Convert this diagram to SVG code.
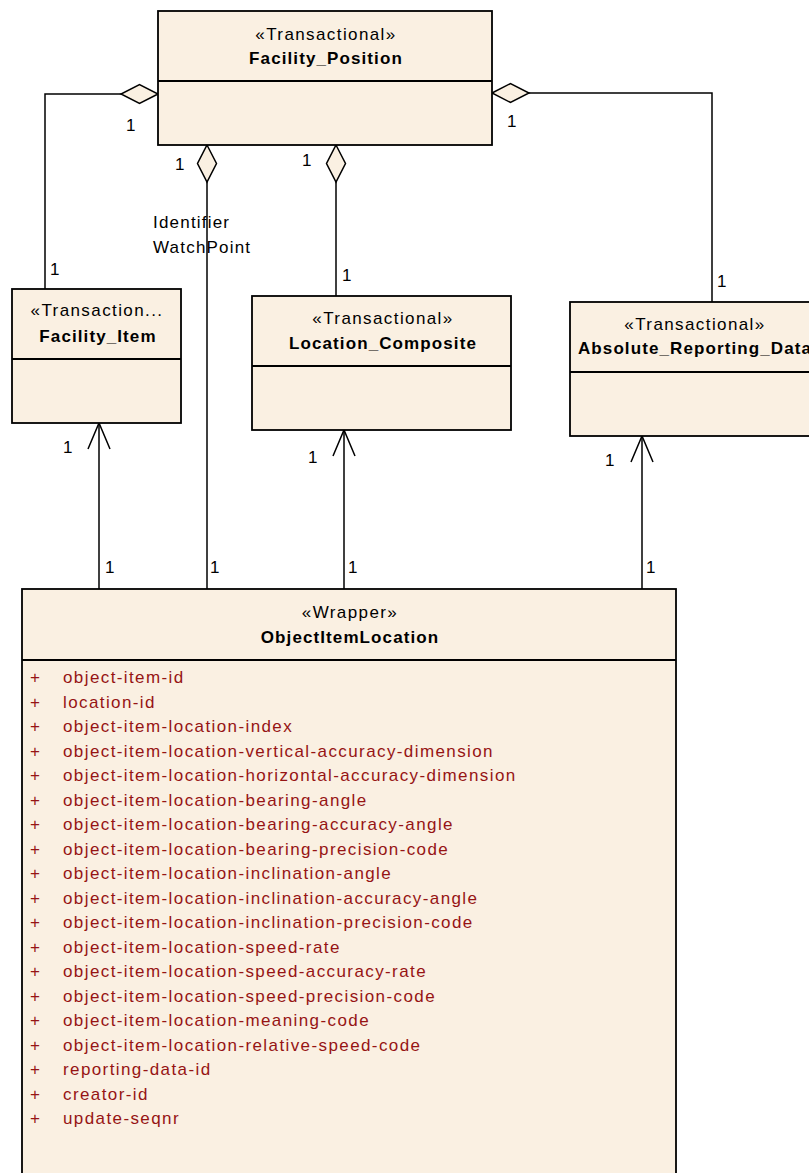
<svg xmlns="http://www.w3.org/2000/svg" width="809" height="1173" viewBox="0 0 809 1173">
<defs>
<style>
.box{fill:#FAF0E2;stroke:#000;stroke-width:1.8}
.div{stroke:#000;stroke-width:1.8;fill:none}
.ln{fill:none;stroke:#000;stroke-width:1.5}
.st{font-family:"Liberation Sans",Arial,sans-serif;font-size:17px;letter-spacing:1.4px;fill:#000;text-anchor:middle}
.nm{font-family:"Liberation Sans",Arial,sans-serif;font-size:17px;font-weight:bold;letter-spacing:1.1px;fill:#000;text-anchor:middle}
.mul{font-family:"Liberation Sans",Arial,sans-serif;font-size:17px;letter-spacing:1.2px;fill:#000}
.at{font-family:"Liberation Sans",Arial,sans-serif;font-size:17px;letter-spacing:1.4px;fill:#961414}
</style>
<marker id="dia" markerUnits="userSpaceOnUse" viewBox="0 -11 40 22" refX="0" refY="0" markerWidth="40" markerHeight="22" orient="auto" overflow="visible">
<path d="M0,0 L18.5,-9.5 L37,0 L18.5,9.5 Z" fill="#FAF0E2" stroke="#000" stroke-width="1.5"/>
</marker>
<marker id="arr" markerUnits="userSpaceOnUse" viewBox="-28 -13 30 26" refX="0" refY="0" markerWidth="30" markerHeight="26" orient="auto" overflow="visible">
<path d="M-26,-11 L0,0 L-26,11" fill="none" stroke="#000" stroke-width="1.5"/>
</marker>
</defs>
<rect width="809" height="1173" fill="#ffffff"/>

<g id="connectors">
<path class="ln" d="M158,94 H45 V289" marker-start="url(#dia)"/>
<path class="ln" d="M207,145 V589" marker-start="url(#dia)"/>
<path class="ln" d="M336,145 V296" marker-start="url(#dia)"/>
<path class="ln" d="M492,93 H712 V302" marker-start="url(#dia)"/>
<path class="ln" d="M99,589 V423" marker-end="url(#arr)"/>
<path class="ln" d="M344,589 V430" marker-end="url(#arr)"/>
<path class="ln" d="M642,589 V436" marker-end="url(#arr)"/>
<text class="mul" x="126" y="131">1</text>
<text class="mul" x="50" y="275">1</text>
<text class="mul" x="175" y="170">1</text>
<text class="mul" x="153" y="228">Identifier</text>
<text class="mul" x="153" y="253">WatchPoint</text>
<text class="mul" x="302" y="166">1</text>
<text class="mul" x="342" y="281">1</text>
<text class="mul" x="507" y="127">1</text>
<text class="mul" x="717" y="287">1</text>
<text class="mul" x="63" y="453">1</text>
<text class="mul" x="105" y="573">1</text>
<text class="mul" x="210" y="573">1</text>
<text class="mul" x="308" y="463">1</text>
<text class="mul" x="348" y="573">1</text>
<text class="mul" x="605" y="466">1</text>
<text class="mul" x="646" y="573">1</text>
</g>

<g id="Facility_Position">
<rect class="box" x="158" y="11" width="334" height="134"/>
<line class="div" x1="158" y1="81" x2="492" y2="81"/>
<text class="st" x="326" y="40">«Transactional»</text>
<text class="nm" x="326" y="64">Facility_Position</text>
</g>

<g id="Facility_Item">
<rect class="box" x="12" y="289" width="169" height="134"/>
<line class="div" x1="12" y1="359" x2="181" y2="359"/>
<text class="st" x="97" y="316">«Transaction...</text>
<text class="nm" x="98" y="342">Facility_Item</text>
</g>

<g id="Location_Composite">
<rect class="box" x="252" y="296" width="259" height="134"/>
<line class="div" x1="252" y1="366" x2="511" y2="366"/>
<text class="st" x="383" y="324">«Transactional»</text>
<text class="nm" x="383" y="349">Location_Composite</text>
</g>

<g id="Absolute_Reporting_Data">
<rect class="box" x="570" y="302" width="248" height="134"/>
<line class="div" x1="570" y1="372" x2="818" y2="372"/>
<text class="st" x="695" y="330">«Transactional»</text>
<text class="nm" x="695" y="354">Absolute_Reporting_Data</text>
</g>

<g id="ObjectItemLocation">
<rect class="box" x="22" y="589" width="654" height="640"/>
<line class="div" x1="22" y1="660" x2="676" y2="660"/>
<text class="st" x="350" y="618">«Wrapper»</text>
<text class="nm" x="350" y="643">ObjectItemLocation</text>
<g class="at">
<text x="30" y="683">+</text><text x="63" y="683">object-item-id</text>
<text x="30" y="707.5">+</text><text x="63" y="707.5">location-id</text>
<text x="30" y="732">+</text><text x="63" y="732">object-item-location-index</text>
<text x="30" y="756.5">+</text><text x="63" y="756.5">object-item-location-vertical-accuracy-dimension</text>
<text x="30" y="781">+</text><text x="63" y="781">object-item-location-horizontal-accuracy-dimension</text>
<text x="30" y="805.5">+</text><text x="63" y="805.5">object-item-location-bearing-angle</text>
<text x="30" y="830">+</text><text x="63" y="830">object-item-location-bearing-accuracy-angle</text>
<text x="30" y="854.5">+</text><text x="63" y="854.5">object-item-location-bearing-precision-code</text>
<text x="30" y="879">+</text><text x="63" y="879">object-item-location-inclination-angle</text>
<text x="30" y="903.5">+</text><text x="63" y="903.5">object-item-location-inclination-accuracy-angle</text>
<text x="30" y="928">+</text><text x="63" y="928">object-item-location-inclination-precision-code</text>
<text x="30" y="952.5">+</text><text x="63" y="952.5">object-item-location-speed-rate</text>
<text x="30" y="977">+</text><text x="63" y="977">object-item-location-speed-accuracy-rate</text>
<text x="30" y="1001.5">+</text><text x="63" y="1001.5">object-item-location-speed-precision-code</text>
<text x="30" y="1026">+</text><text x="63" y="1026">object-item-location-meaning-code</text>
<text x="30" y="1050.5">+</text><text x="63" y="1050.5">object-item-location-relative-speed-code</text>
<text x="30" y="1075">+</text><text x="63" y="1075">reporting-data-id</text>
<text x="30" y="1099.5">+</text><text x="63" y="1099.5">creator-id</text>
<text x="30" y="1124">+</text><text x="63" y="1124">update-seqnr</text>
</g>
</g>
</svg>
